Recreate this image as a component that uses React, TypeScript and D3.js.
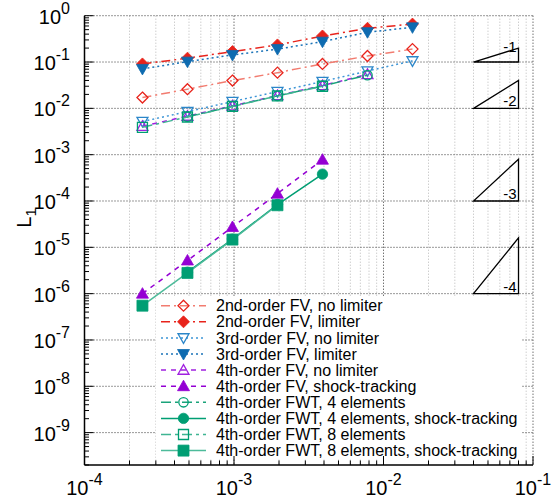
import React from "react";
import * as d3 from "d3";

// grid spacings h
const H = [1 / 4096, 1 / 2048, 1 / 1024, 1 / 512, 1 / 256, 1 / 128, 1 / 64];

// L1 errors
const fv2NoLimiter = [0.0171, 0.0259, 0.0398, 0.059, 0.091, 0.135, 0.19];
const fv2Limiter = [0.091, 0.121, 0.168, 0.234, 0.365, 0.535, 0.66];
const fv3NoLimiter = [0.0052, 0.0085, 0.014, 0.023, 0.038, 0.064, 0.106];
const fv3Limiter = [0.071, 0.102, 0.142, 0.19, 0.275, 0.44, 0.56];
const fv4NoLimiter = [0.0041, 0.0068, 0.0113, 0.019, 0.031, 0.054];
const fv4Shock = [1.0e-6, 5.2e-6, 2.75e-5, 1.44e-4, 7.8e-4];
const fwt4 = [0.0066, 0.0111, 0.0186, 0.0305, 0.052];
const fwt4Shock = [2.9e-6, 1.5e-5, 8.4e-5, 3.8e-4];
const fwt8 = [0.0039, 0.0065, 0.011, 0.0185, 0.03];
const fwt8Shock = [5.5e-7, 2.8e-6, 1.47e-5, 8.1e-5];

const LABELS = [
  "2nd-order FV, no limiter",
  "2nd-order FV, limiter",
  "3rd-order FV, no limiter",
  "3rd-order FV, limiter",
  "4th-order FV, no limiter",
  "4th-order FV, shock-tracking",
  "4th-order FWT, 4 elements",
  "4th-order FWT, 4 elements, shock-tracking",
  "4th-order FWT, 8 elements",
  "4th-order FWT, 8 elements, shock-tracking",
];

const X_EXP = [-4, -3, -2, -1];
const Y_EXP = [0, -1, -2, -3, -4, -5, -6, -7, -8, -9];

// slope triangles
const SLOPES = [-1, -2, -3, -4];
const SLOPE_BASE = [1e-1, 1e-2, 1e-4, 1e-6];
const SLOPE_X = [0.04, 0.08];

type Shape = "diamond" | "triUp" | "triDown" | "circle" | "square";

const series = [
  { x: H, y: fv2NoLimiter, shape: "diamond", filled: false, color: "#e8231b", line: "#f27c70", dash: "9 4 2 4" },
  { x: H, y: fv2Limiter, shape: "diamond", filled: true, color: "#e8231b", line: "#e8231b", dash: "9 4 2 4" },
  { x: H, y: fv3NoLimiter, shape: "triDown", filled: false, color: "#2b86c9", line: "#3d95d6", dash: "2 3" },
  { x: H, y: fv3Limiter, shape: "triDown", filled: true, color: "#0e6bb0", line: "#1a73b8", dash: "2 3" },
  { x: H.slice(0, 6), y: fv4NoLimiter, shape: "triUp", filled: false, color: "#a020e0", line: "#a020e0", dash: "5 5" },
  { x: H.slice(0, 5), y: fv4Shock, shape: "triUp", filled: true, color: "#9400d3", line: "#9400d3", dash: "5 5" },
  { x: H.slice(1, 6), y: fwt4, shape: "circle", filled: false, color: "#009e73", line: "#1aa37a", dash: "10 4 3 4" },
  { x: H.slice(1, 5), y: fwt4Shock, shape: "circle", filled: true, color: "#009e73", line: "#009e73", dash: "" },
  { x: H.slice(0, 5), y: fwt8, shape: "square", filled: false, color: "#009e73", line: "#3fb592", dash: "10 4 3 4" },
  { x: H.slice(0, 4), y: fwt8Shock, shape: "square", filled: true, color: "#009e73", line: "#4dbb9a", dash: "" },
];

const W = 559;
const HT = 504;
const left = 84.5, right = 533, top = 15.7, bottom = 465;

const xScale = d3.scaleLog().domain([1e-4, 1e-1]).range([left, right]);
const yScale = d3.scaleLog().domain([2e-10, 1]).range([bottom, top]);

function markerPath(shape: Shape, filled: boolean) {
  const r = filled ? 6 : 5.5;
  switch (shape) {
    case "diamond":
      return `M0,${-r}L${r},0L0,${r}L${-r},0Z`;
    case "triUp":
      return `M0,${-r}L${r},${r * 0.75}L${-r},${r * 0.75}Z`;
    case "triDown":
      return `M0,${r}L${r},${-r * 0.75}L${-r},${-r * 0.75}Z`;
    case "square":
      return `M${-r + 0.5},${-r + 0.5}H${r - 0.5}V${r - 0.5}H${-r + 0.5}Z`;
    default:
      return `M${-r + 0.8},0A${r - 0.8},${r - 0.8} 0 1 0 ${r - 0.8},0A${r - 0.8},${r - 0.8} 0 1 0 ${-r + 0.8},0Z`;
  }
}

function Marker({ s, x, y }: { s: any; x: number; y: number }) {
  return (
    <path
      d={markerPath(s.shape, s.filled)}
      transform={`translate(${x},${y})`}
      fill={s.filled ? s.color : "none"}
      stroke={s.color}
      strokeWidth={s.filled ? 0.8 : 1.3}
    />
  );
}

export default function App() {
  const font = "'Liberation Sans', Arial, Helvetica, sans-serif";

  const minorX: number[] = [];
  for (let d = -4; d < -1; d++) for (let m = 2; m <= 9; m++) minorX.push(m * Math.pow(10, d));
  const minorY: number[] = [];
  for (let d = -10; d < 0; d++) for (let m = 2; m <= 9; m++) {
    const v = m * Math.pow(10, d);
    if (v >= 2e-10 && v < 1) minorY.push(v);
  }

  const line = d3
    .line<[number, number]>()
    .x((d) => xScale(d[0]))
    .y((d) => yScale(d[1]));

  const legX0 = 161, legX1 = 206, legY0 = 305.7, legDy = 16.1;

  return (
    <svg
      width={W}
      height={HT}
      style={{ position: "absolute", left: 0, top: 0, background: "#fff" }}
      fontFamily={font}
    >
      <rect width={W} height={HT} fill="#fff" />

      {/* minor vertical grid */}
      {minorX.map((v, i) => (
        <line key={"gx" + i} x1={xScale(v)} x2={xScale(v)} y1={top} y2={bottom}
          stroke="#b8b8b8" strokeWidth={1} strokeDasharray="1 2" />
      ))}
      {/* major vertical grid */}
      {[1e-3, 1e-2, 1e-1].map((v, i) => (
        <line key={"GX" + i} x1={xScale(v)} x2={xScale(v)} y1={top} y2={bottom}
          stroke="#333" strokeWidth={1} strokeDasharray="1 2" />
      ))}
      {/* major horizontal grid */}
      {Y_EXP.map((e) => (
        <line key={"GY" + e} x1={left} x2={right} y1={yScale(Math.pow(10, e))} y2={yScale(Math.pow(10, e))}
          stroke="#333" strokeWidth={1} strokeDasharray="1 2" />
      ))}

      {/* slope triangles */}
      {SLOPES.map((s, i) => {
        const xa = xScale(SLOPE_X[0]);
        const xb = xScale(SLOPE_X[1]);
        const yb = yScale(SLOPE_BASE[i]);
        const yt = yScale(SLOPE_BASE[i] * Math.pow(SLOPE_X[1] / SLOPE_X[0], -s));
        return (
          <g key={"sl" + s}>
            <path d={`M${xa},${yb}L${xb},${yb}L${xb},${yt}Z`} fill="none" stroke="#000" strokeWidth={1.3} />
            <text x={xb - 2} y={s === -1 ? yt + 4 : yb - 2} textAnchor="end" fontSize={15}>
              {String(s)}
            </text>
          </g>
        );
      })}

      {/* legend background */}
      <rect x={156} y={297} width={366} height={162} fill="#fff" />

      {/* data */}
      {series.map((s, i) => {
        const pts = s.x.map((xv, j) => [xv, s.y[j]] as [number, number]);
        return (
          <g key={"s" + i}>
            <path d={line(pts) || ""} fill="none" stroke={s.line} strokeWidth={1.5}
              strokeDasharray={s.dash || undefined} />
            {pts.map((p, j) => (
              <Marker key={j} s={s} x={xScale(p[0])} y={yScale(p[1])} />
            ))}
          </g>
        );
      })}

      {/* legend */}
      {series.map((s, i) => {
        const y = legY0 + i * legDy;
        return (
          <g key={"lg" + i}>
            <line x1={legX0} x2={legX1} y1={y} y2={y} stroke={s.line} strokeWidth={1.5}
              strokeDasharray={s.dash || undefined} />
            <Marker s={s} x={(legX0 + legX1) / 2} y={y} />
            <text x={216} y={y + 5.6} fontSize={16} fill="#000">{LABELS[i]}</text>
          </g>
        );
      })}

      {/* axes */}
      <line x1={left} x2={left} y1={top} y2={bottom} stroke="#000" strokeWidth={1.5} />
      <line x1={left} x2={right} y1={bottom} y2={bottom} stroke="#000" strokeWidth={1.5} />
      {minorX.map((v, i) => (
        <line key={"tx" + i} x1={xScale(v)} x2={xScale(v)} y1={bottom} y2={bottom - 4.5} stroke="#000" strokeWidth={1} />
      ))}
      {X_EXP.map((e) => (
        <line key={"TX" + e} x1={xScale(Math.pow(10, e))} x2={xScale(Math.pow(10, e))} y1={bottom} y2={bottom - 9} stroke="#000" strokeWidth={1} />
      ))}
      {minorY.map((v, i) => (
        <line key={"ty" + i} x1={left} x2={left + 4.5} y1={yScale(v)} y2={yScale(v)} stroke="#000" strokeWidth={1} />
      ))}
      {Y_EXP.map((e) => (
        <line key={"TY" + e} x1={left} x2={left + 9} y1={yScale(Math.pow(10, e))} y2={yScale(Math.pow(10, e))} stroke="#000" strokeWidth={1} />
      ))}

      {/* tick labels */}
      {X_EXP.map((e) => (
        <text key={"lx" + e} x={xScale(Math.pow(10, e))} y={495} textAnchor="middle" fontSize={20}>
          10<tspan dy={-10} fontSize={16}>{String(e)}</tspan>
        </text>
      ))}
      {Y_EXP.map((e) => (
        <text key={"ly" + e} x={70} y={yScale(Math.pow(10, e)) + 8} textAnchor="end" fontSize={20}>
          10<tspan dy={-10} fontSize={16}>{String(e)}</tspan>
        </text>
      ))}

      {/* y axis title */}
      <text transform="translate(31,218) rotate(-90)" textAnchor="middle" fontSize={20}>
        L<tspan dy={5} fontSize={15}>1</tspan>
      </text>
    </svg>
  );
}
